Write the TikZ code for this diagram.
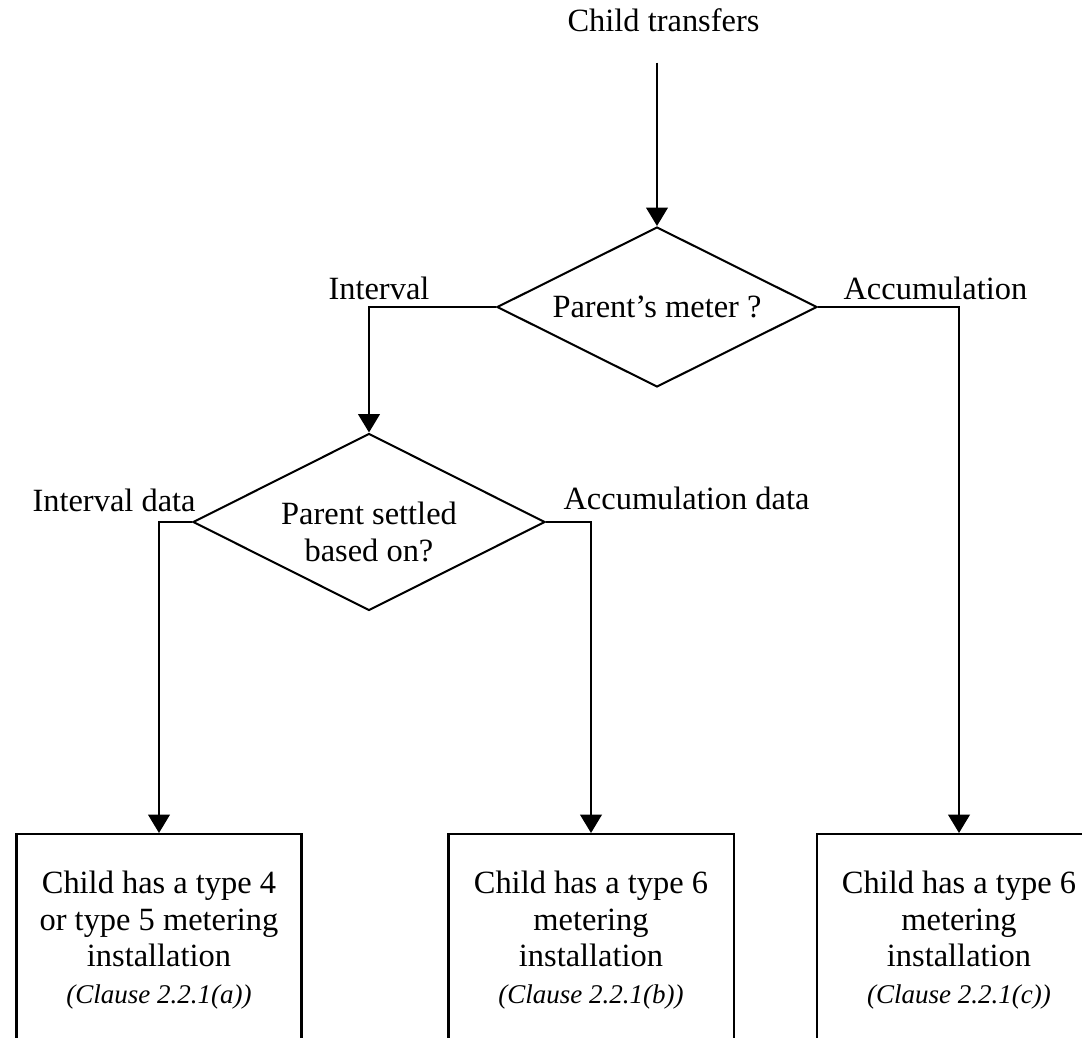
\documentclass[tikz,border=0pt]{standalone}
\usepackage{fontspec}
\setmainfont{Liberation Serif}
\usetikzlibrary{shapes,arrows.meta}
\tikzstyle{block} = [rectangle, draw, line width=0.75pt, 
    text centered, align=center, minimum width=3.705cm, minimum height=2.756cm]
\tikzstyle{decision} = [diamond, draw, line width=0.75pt, aspect=2, inner sep=0pt, align=center]
\tikzstyle{line} = [draw, line width=0.75pt, -{Triangle[length=6.8pt,width=8pt]}]
\newcommand{\clause}[1]{{\fontsize{10}{13.6}\selectfont\itshape (Clause 2.2.1(#1))}}

\begin{document}
\begin{tikzpicture}[x=0.013cm, y=-0.013cm, font=\fontsize{12}{13.6}\selectfont,
    lbl/.style={inner sep=0pt, anchor=base west}]
\useasboundingbox (0,0) rectangle (1082,1037);
\clip (0,0) rectangle (1082,1037);
\node [lbl] at (567,32) (start) {Child transfers};
\node [decision, minimum width=4.16cm, minimum height=2.08cm] at (657,307) (meter) {Parent's meter ?};
\node [decision, minimum width=4.576cm, minimum height=2.301cm, text height=29.4pt, text depth=0pt] at (369,522) (settled) {Parent settled\\based on?};
\node [block] at (159,940) (typea) {Child has a type 4\\or type 5 metering\\installation\\\clause{a}};
\node [block] at (591,940) (typeb) {Child has a type 6\\metering\\installation\\\clause{b}};
\node [block] at (959,940) (typec) {Child has a type 6\\metering\\installation\\\clause{c}};

\node [lbl] at (328,299) (intlbl) {Interval};
\node [lbl] at (843,299) (acclbl) {Accumulation};
\node [lbl] at (32,511) (intdatalbl) {Interval data};
\node [lbl] at (563,509) (accdatalbl) {Accumulation data};

\draw [line, shorten <=11pt] (meter.north |- start.south) -- (meter.north);
\draw [line] (meter.west) -| (settled.north);
\draw [line] (meter.east) -| (typec.north);
\draw [line] (settled.west) -| (typea.north);
\draw [line] (settled.east) -| (typeb.north);
\end{tikzpicture}
\end{document}
